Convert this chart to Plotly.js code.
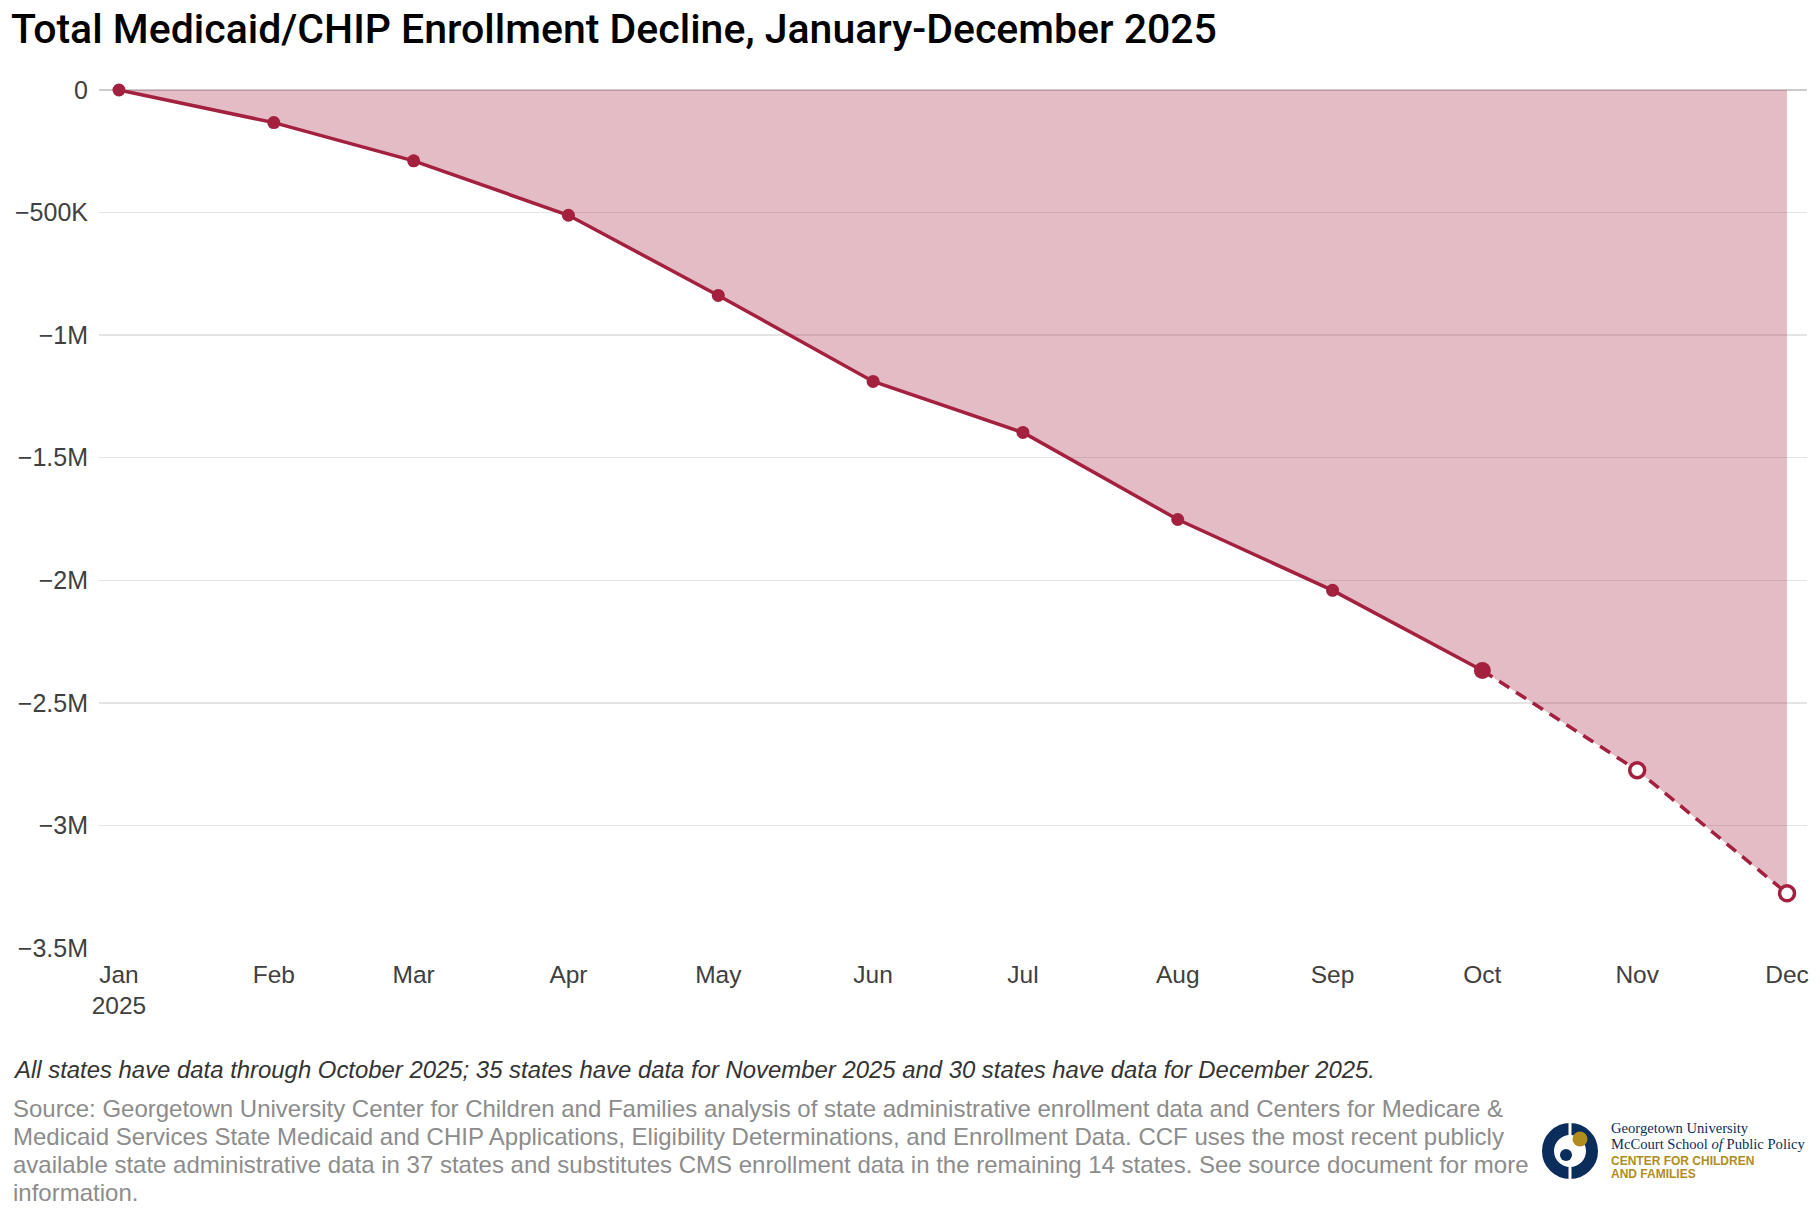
<!DOCTYPE html>
<html>
<head>
<meta charset="utf-8">
<script src="https://cdn.plot.ly/plotly-3.0.1.min.js"></script>
<style>html,body{margin:0;padding:0;background:#fff;}#chart{width:1820px;height:1220px;}</style>
</head>
<body>
<div id="chart"></div>
<script>
const months = ['2025-01-01','2025-02-01','2025-03-01','2025-04-01','2025-05-01','2025-06-01','2025-07-01','2025-08-01','2025-09-01','2025-10-01','2025-11-01','2025-12-01'];
const monthLabels = ['Jan<br>2025','Feb','Mar','Apr','May','Jun','Jul','Aug','Sep','Oct','Nov','Dec'];
const decline = [0, -133000, -289000, -511000, -838000, -1189000, -1397000, -1752000, -2041000, -2368000, -2775000, -3277000];
const lastComplete = 9; // October: all states reporting
const yTickVals = [0, -500000, -1000000, -1500000, -2000000, -2500000, -3000000, -3500000];
const yTickText = ['0', '\u2212500K', '\u22121M', '\u22121.5M', '\u22122M', '\u22122.5M', '\u22123M', '\u22123.5M'];

const titleText = 'Total Medicaid/CHIP Enrollment Decline, January-December 2025';
const noteText = 'All states have data through October 2025; 35 states have data for November 2025 and 30 states have data for December 2025.';
const sourceLines = [
  'Source: Georgetown University Center for Children and Families analysis of state administrative enrollment data and Centers for Medicare &',
  'Medicaid Services State Medicaid and CHIP Applications, Eligibility Determinations, and Enrollment Data. CCF uses the most recent publicly',
  'available state administrative data in 37 states and substitutes CMS enrollment data in the remaining 14 states. See source document for more',
  'information.'
];

const W = 1820, H = 1220;
const M = {l: 99, r: 13, t: 90, b: 272};
const PW = W - M.l - M.r, PH = H - M.t - M.b;
const px = x => (x - M.l) / PW;
const py = y => (H - M.b - y) / PH;

const RED = '#a3213f';
const NAVY = '#0b2d5b';
const GOLD = '#b08d1e';
const FONT = '"Liberation Sans", Arial, sans-serif';
const SERIF = '"Liberation Serif", "DejaVu Serif", serif';

const traces = [
  { x: months, y: decline, type: 'scatter', mode: 'lines', fill: 'tozeroy',
    fillcolor: 'rgba(163,33,63,0.3)', line: {width: 0}, hoverinfo: 'skip', cliponaxis: false },
  { x: months.slice(lastComplete), y: decline.slice(lastComplete), type: 'scatter', mode: 'lines',
    line: {color: RED, width: 3.5, dash: '12px,8px'}, cliponaxis: false },
  { x: months.slice(0, lastComplete + 1), y: decline.slice(0, lastComplete + 1), type: 'scatter', mode: 'lines+markers',
    line: {color: RED, width: 3.5}, marker: {color: RED, size: 13}, cliponaxis: false },
  { x: months.slice(lastComplete, lastComplete + 1), y: decline.slice(lastComplete, lastComplete + 1), type: 'scatter', mode: 'markers',
    marker: {color: RED, size: 17}, cliponaxis: false },
  { x: months.slice(lastComplete + 1), y: decline.slice(lastComplete + 1), type: 'scatter', mode: 'markers',
    marker: {color: '#ffffff', size: 15, line: {color: RED, width: 3.5}}, cliponaxis: false }
];

const sourceY = [1108, 1136, 1164, 1192];
const annotations = [
  { xref: 'paper', yref: 'paper', x: px(11), y: py(1069), xanchor: 'left', yanchor: 'middle', showarrow: false,
    text: '<i>' + noteText + '</i>', font: {family: FONT, size: 23.9, color: '#333333'} }
].concat(sourceLines.map((line, i) => (
  { xref: 'paper', yref: 'paper', x: px(11), y: py(sourceY[i]), xanchor: 'left', yanchor: 'middle', showarrow: false,
    text: line, font: {family: FONT, size: 24.0, color: '#8c8c8c'} }
))).concat([
  { xref: 'paper', yref: 'paper', x: px(1609), y: py(1128), xanchor: 'left', yanchor: 'middle', showarrow: false,
    text: 'Georgetown University', font: {family: SERIF, size: 14.6, color: NAVY} },
  { xref: 'paper', yref: 'paper', x: px(1609), y: py(1144), xanchor: 'left', yanchor: 'middle', showarrow: false,
    text: 'McCourt School <i>of</i> Public Policy', font: {family: SERIF, size: 14.6, color: NAVY} },
  { xref: 'paper', yref: 'paper', x: px(1609), y: py(1161), xanchor: 'left', yanchor: 'middle', showarrow: false,
    text: '<b>CENTER FOR CHILDREN</b>', font: {family: FONT, size: 12, color: GOLD} },
  { xref: 'paper', yref: 'paper', x: px(1609), y: py(1174), xanchor: 'left', yanchor: 'middle', showarrow: false,
    text: '<b>AND FAMILIES</b>', font: {family: FONT, size: 12, color: GOLD} }
]);

const cx = px(1570), cy = py(1151);
const shapes = [
  { type: 'circle', xref: 'paper', yref: 'paper', xsizemode: 'pixel', ysizemode: 'pixel', xanchor: cx, yanchor: cy,
    x0: -22, x1: 22, y0: -22, y1: 22, line: {color: NAVY, width: 12}, fillcolor: 'rgba(0,0,0,0)' },
  { type: 'rect', xref: 'paper', yref: 'paper', xsizemode: 'pixel', ysizemode: 'pixel', xanchor: cx, yanchor: cy,
    x0: -1.5, x1: 1.5, y0: 14, y1: 30, line: {width: 0}, fillcolor: '#ffffff' },
  { type: 'rect', xref: 'paper', yref: 'paper', xsizemode: 'pixel', ysizemode: 'pixel', xanchor: cx, yanchor: cy,
    x0: -1.5, x1: 1.5, y0: -30, y1: -14, line: {width: 0}, fillcolor: '#ffffff' },
  { type: 'circle', xref: 'paper', yref: 'paper', xsizemode: 'pixel', ysizemode: 'pixel', xanchor: px(1580), yanchor: py(1139),
    x0: -7.5, x1: 7.5, y0: -7.5, y1: 7.5, line: {width: 0}, fillcolor: GOLD },
  { type: 'circle', xref: 'paper', yref: 'paper', xsizemode: 'pixel', ysizemode: 'pixel', xanchor: px(1566), yanchor: py(1155),
    x0: -6, x1: 6, y0: -6, y1: 6, line: {width: 0}, fillcolor: NAVY }
];

const layout = {
  width: W, height: H,
  margin: M,
  paper_bgcolor: '#ffffff', plot_bgcolor: '#ffffff',
  showlegend: false, hovermode: false,
  font: {family: FONT, color: '#404040'},
  title: { text: titleText, x: 11 / W, xanchor: 'left', xref: 'container', y: 1 - 29 / H, yanchor: 'middle', yref: 'container',
    font: {family: 'Roboto, "Liberation Sans", sans-serif', size: 41, weight: 500, color: '#000000'} },
  xaxis: { type: 'date', range: ['2024-12-28', '2025-12-05'], tickvals: months, ticktext: monthLabels,
    showgrid: false, zeroline: false, showline: false, ticks: '', ticklabelstandoff: 9,
    tickfont: {family: FONT, size: 24.5, color: '#404040'} },
  yaxis: { range: [-3500000, 0], tickvals: yTickVals, ticktext: yTickText,
    showgrid: true, gridcolor: '#e4e4e4', gridwidth: 1.5, zeroline: true, zerolinecolor: '#cccccc', zerolinewidth: 2,
    showline: false, ticks: '', ticklabelstandoff: 10,
    tickfont: {family: FONT, size: 25, color: '#404040'} },
  annotations: annotations,
  shapes: shapes
};

Plotly.newPlot('chart', traces, layout, {displayModeBar: false, staticPlot: true});
</script>
</body>
</html>
